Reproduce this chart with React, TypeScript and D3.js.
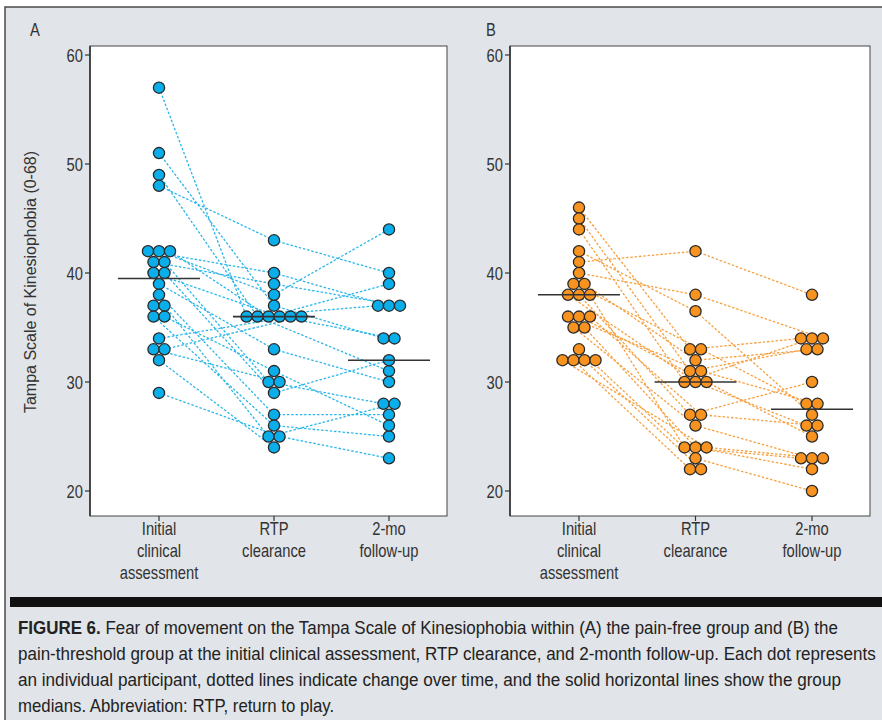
import React, { useLayoutEffect, useRef, useState } from "react";
import * as d3 from "d3";

const categories = ["Initial clinical assessment", "RTP clearance", "2-mo follow-up"];
const categoryLines = [["Initial", "clinical", "assessment"], ["RTP", "clearance"], ["2-mo", "follow-up"]];
const yTicks = [20, 30, 40, 50, 60];

// Panel A: pain-free group (one entry per participant; null = missing)
const aInitial = [57, 51, 49, 48, 42, 42, 42, 41, 41, 40, 40, 39, 38, 37, 37, 36, 36, 34, 33, 33, 32, 29];
const aRTP = [36, 37, 36, 43, 40, 38, 36, 39, 30, 36, 29, 33, 27, null, 25, 26, 31, 36, 30, 36, 24, 25];
const aFollow = [37, 34, 31, 40, 37, 44, 39, 37, 28, 34, 32, 30, 27, null, 28, 25, 26, null, null, null, null, 23];

// Panel B: pain-threshold group
const bInitial = [46, 45, 44, 42, 41, 40, 39, 39, 38, 38, 38, 36, 36, 36, 35, 35, 33, 32, 32, 32, 32];
const bRTP = [33, 31, 30, 36.5, 42, 38, 33, 32, 30, 27, 24, 31, 30, 27, 26, 24, 23, 24, 22, 22, null];
const bFollow = [34, 33, 34, 27, 38, 34, 28, 33, 26, 30, 23, 28, 25, 26, 23, 22, 20, 23, null, null, null];

const captionBold = "FIGURE 6.";
const captionLines = [
  " Fear of movement on the Tampa Scale of Kinesiophobia within (A) the pain-free group and (B) the",
  "pain-threshold group at the initial clinical assessment, RTP clearance, and 2-month follow-up. Each dot represents",
  "an individual participant, dotted lines indicate change over time, and the solid horizontal lines show the group",
  "medians. Abbreviation: RTP, return to play.",
];
const captionWidths = [820, 858, 823, 316];

const FONT = "'Liberation Sans', Arial, sans-serif";
const SX = 0.82; // horizontal condensing of the label font
const W = 882;
const H = 720;
const boxTop = 46;
const boxBottom = 516;
const DOT_STEP = 11;

function CText({ x, y, anchor = "start", size = 18, children, weight = "normal" }: any) {
  return (
    <text
      transform={`translate(${x},${y}) scale(${SX},1)`}
      textAnchor={anchor}
      fontFamily={FONT}
      fontSize={size}
      fontWeight={weight}
      fill="#333"
    >
      {children}
    </text>
  );
}

function FitText({ x, y, width, size, children }: any) {
  const ref = useRef<SVGTextElement>(null);
  const [s, setS] = useState(0.85);
  useLayoutEffect(() => {
    if (ref.current) {
      const w = ref.current.getComputedTextLength();
      if (w > 0) setS(width / w);
    }
  }, [width]);
  return (
    <text ref={ref} transform={`translate(${x},${y}) scale(${s},1)`} fontFamily={FONT} fontSize={size} fill="#222">
      {children}
    </text>
  );
}

type PanelProps = {
  label: string;
  labelX: number;
  left: number;
  right: number;
  series: (number | null)[][];
  fill: string;
  lineColor: string;
  showTitle: boolean;
};

function Panel({ label, labelX, left, right, series, fill, lineColor, showTitle }: PanelProps) {
  const y = d3.scaleLinear().domain([20, 60]).range([491, 55]);
  const x = d3.scalePoint<string>().domain(categories).range([left + 69, right - 58]);

  const positions: ({ cx: number; cy: number } | null)[][] = series.map((vals, ci) => {
    const groups = d3.group(
      vals.map((v, i) => ({ v, i })).filter((d) => d.v !== null),
      (d) => d.v as number
    );
    const pos: ({ cx: number; cy: number } | null)[] = vals.map(() => null);
    groups.forEach((arr, v) => {
      const n = arr.length;
      arr.forEach((d, k) => {
        pos[d.i] = { cx: (x(categories[ci]) as number) + (k - (n - 1) / 2) * DOT_STEP, cy: y(v) };
      });
    });
    return pos;
  });

  const segments: { x1: number; y1: number; x2: number; y2: number }[] = [];
  for (let c = 0; c < series.length - 1; c++) {
    series[c].forEach((_, i) => {
      const p1 = positions[c][i];
      const p2 = positions[c + 1][i];
      if (p1 && p2) segments.push({ x1: p1.cx, y1: p1.cy, x2: p2.cx, y2: p2.cy });
    });
  }

  const medians = series.map((vals) => d3.median(vals.filter((v) => v !== null) as number[]) as number);

  return (
    <g>
      <CText x={labelX} y={36} size={18}>{label}</CText>
      <rect x={left} y={boxTop} width={right - left} height={boxBottom - boxTop} fill="#fff" stroke="#444" strokeWidth={1} />
      <line x1={left} x2={left} y1={boxTop} y2={boxBottom} stroke="#333" strokeWidth={1.6} />
      {yTicks.map((t) => (
        <g key={t}>
          <line x1={left - 5} x2={left} y1={y(t)} y2={y(t)} stroke="#333" strokeWidth={1.2} />
          <CText x={left - 7} y={y(t) + 6.5} anchor="end" size={18}>{t}</CText>
        </g>
      ))}
      {categories.map((c, ci) => (
        <g key={c}>
          <line x1={x(c)} x2={x(c)} y1={boxBottom} y2={boxBottom + 5} stroke="#333" strokeWidth={1.2} />
          {categoryLines[ci].map((ln, li) => (
            <CText key={li} x={x(c)} y={535 + li * 22} anchor="middle" size={18}>{ln}</CText>
          ))}
        </g>
      ))}
      {showTitle && (
        <text
          transform={`translate(${left - 54},${(boxTop + boxBottom) / 2 + 1}) rotate(-90)`}
          textAnchor="middle"
          fontFamily={FONT}
          fontSize={16.5}
          fill="#333"
          textLength={262}
          lengthAdjust="spacingAndGlyphs"
        >
          Tampa Scale of Kinesiophobia (0-68)
        </text>
      )}
      {segments.map((s, i) => (
        <line key={i} x1={s.x1} y1={s.y1} x2={s.x2} y2={s.y2} stroke={lineColor} strokeWidth={1.3} strokeDasharray="2.5,1.8" />
      ))}
      {positions.map((col, ci) =>
        col.map((p, i) =>
          p ? <circle key={`${ci}-${i}`} cx={p.cx} cy={p.cy} r={5.6} fill={fill} stroke="#2a2a2a" strokeWidth={1.3} /> : null
        )
      )}
      {medians.map((m, ci) => (
        <line key={ci} x1={(x(categories[ci]) as number) - 41} x2={(x(categories[ci]) as number) + 41} y1={y(m)} y2={y(m)} stroke="#333" strokeWidth={1.6} />
      ))}
    </g>
  );
}

export default function App() {
  return (
    <svg width={W} height={H} style={{ position: "absolute", left: 0, top: 0, background: "#fff" }}>
      <rect x={5} y={7} width={W + 10} height={H + 10} fill="#e1e4e8" stroke="#4a4a4a" strokeWidth={1.5} />
      <Panel label="A" labelX={30} left={90} right={447} series={[aInitial, aRTP, aFollow]} fill="#0aaeea" lineColor="#2bb6ea" showTitle={true} />
      <Panel label="B" labelX={486} left={510} right={870} series={[bInitial, bRTP, bFollow]} fill="#f7931e" lineColor="#f7a040" showTitle={false} />
      <rect x={10} y={597} width={W} height={10} fill="#111" />
      {captionLines.map((ln, i) => (
        <FitText key={i} x={18} y={634 + i * 26} width={captionWidths[i]} size={18.5}>
          {i === 0 && <tspan fontWeight="bold">{captionBold}</tspan>}
          {ln}
        </FitText>
      ))}
    </svg>
  );
}
